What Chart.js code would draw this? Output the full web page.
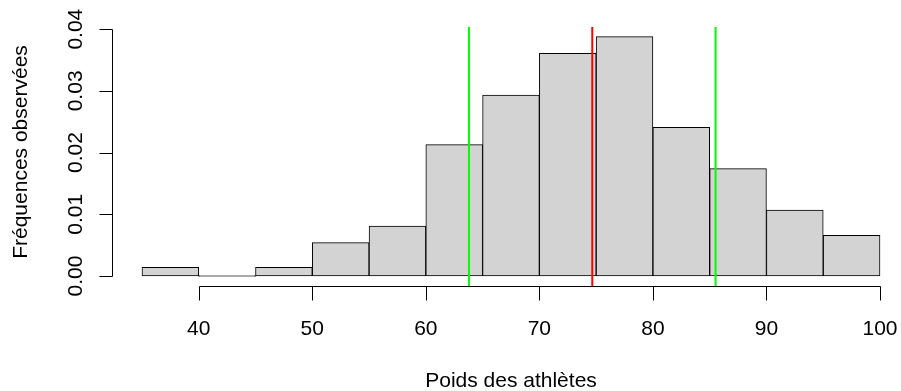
<!DOCTYPE html>
<html lang="fr">
<head>
    <meta charset="UTF-8">
    <title>Poids des athlètes</title>
    <script src="https://cdn.jsdelivr.net/npm/chart.js"></script>
    <style>
        body { margin: 0; background: #fff; }
    </style>
</head>
<body>
    <canvas id="histChart" width="901" height="391"></canvas>

    <script>
        // Histogram data (density scale)
        var breaks = [35, 40, 45, 50, 55, 60, 65, 70, 75, 80, 85, 90, 95, 100];
        var densities = [0.0014, 0, 0.0014, 0.0054, 0.0081, 0.0213, 0.0293, 0.0361, 0.0388, 0.0241, 0.0174, 0.0107, 0.0066];

        // Mean and mean +/- one standard deviation
        var meanLine = [74.66];
        var sdLines = [63.8, 85.52];

        // Axis ticks
        var xTicks = [40, 50, 60, 70, 80, 90, 100];
        var yTicks = [0, 0.01, 0.02, 0.03, 0.04];
        var yTickLabels = ['0.00', '0.01', '0.02', '0.03', '0.04'];

        var xTitle = 'Poids des athlètes';
        var yTitle = 'Fréquences observées';

        var xMin = 32.36, xMax = 101.85;
        var yMin = -0.00162, yMax = 0.04035;

        var font = '21px "Liberation Sans", Arial, sans-serif';

        // Bars placed at bin centres
        var barData = densities.map(function (d, i) {
            return { x: (breaks[i] + breaks[i + 1]) / 2, y: d };
        });

        function vline(x) {
            return [{ x: x, y: yMin }, { x: x, y: yMax }];
        }

        // R-style axes: detached lines that only span first to last tick
        var rAxes = {
            id: 'rAxes',
            afterDraw: function (chart) {
                var ctx = chart.ctx;
                var xs = chart.scales.x, ys = chart.scales.y;
                var area = chart.chartArea;
                ctx.save();
                ctx.strokeStyle = '#000';
                ctx.fillStyle = '#000';
                ctx.lineWidth = 1;
                ctx.font = font;

                // x axis
                var axY = Math.round(area.bottom) + 0.5;
                ctx.beginPath();
                ctx.moveTo(Math.round(xs.getPixelForValue(xTicks[0])) + 0.5, axY);
                ctx.lineTo(Math.round(xs.getPixelForValue(xTicks[xTicks.length - 1])) + 0.5, axY);
                xTicks.forEach(function (t) {
                    var px = Math.round(xs.getPixelForValue(t)) + 0.5;
                    ctx.moveTo(px, axY);
                    ctx.lineTo(px, axY + 14);
                });
                ctx.stroke();
                ctx.textAlign = 'center';
                ctx.textBaseline = 'alphabetic';
                xTicks.forEach(function (t) {
                    ctx.fillText(String(t), xs.getPixelForValue(t), 335);
                });
                ctx.fillText(xTitle, 511, 387);

                // y axis
                var axX = Math.round(area.left) + 0.5;
                ctx.beginPath();
                ctx.moveTo(axX, Math.round(ys.getPixelForValue(yTicks[0])) + 0.5);
                ctx.lineTo(axX, Math.round(ys.getPixelForValue(yTicks[yTicks.length - 1])) + 0.5);
                yTicks.forEach(function (t) {
                    var py = Math.round(ys.getPixelForValue(t)) + 0.5;
                    ctx.moveTo(axX, py);
                    ctx.lineTo(axX - 13, py);
                });
                ctx.stroke();
                yTicks.forEach(function (t, i) {
                    ctx.save();
                    ctx.translate(82, ys.getPixelForValue(t));
                    ctx.rotate(-Math.PI / 2);
                    ctx.fillText(yTickLabels[i], 0, 0);
                    ctx.restore();
                });
                ctx.save();
                ctx.translate(27, 152);
                ctx.rotate(-Math.PI / 2);
                ctx.fillText(yTitle, 0, 0);
                ctx.restore();

                ctx.restore();
            }
        };

        var ctx = document.getElementById('histChart').getContext('2d');
        var myChart = new Chart(ctx, {
            type: 'bar',
            data: {
                datasets: [
                    {
                        type: 'line',
                        data: vline(sdLines[0]),
                        borderColor: '#00FF00',
                        borderWidth: 2,
                        pointRadius: 0,
                        order: 1
                    },
                    {
                        type: 'line',
                        data: vline(meanLine[0]),
                        borderColor: '#FF0000',
                        borderWidth: 2,
                        pointRadius: 0,
                        order: 1
                    },
                    {
                        type: 'line',
                        data: vline(sdLines[1]),
                        borderColor: '#00FF00',
                        borderWidth: 2,
                        pointRadius: 0,
                        order: 1
                    },
                    {
                        type: 'bar',
                        data: barData,
                        backgroundColor: '#D3D3D3',
                        borderColor: '#000',
                        borderWidth: 1,
                        borderSkipped: false,
                        barPercentage: 1,
                        categoryPercentage: 1,
                        minBarLength: 1,
                        order: 2
                    }
                ]
            },
            options: {
                responsive: false,
                animation: false,
                layout: {
                    padding: { left: 112, right: 0, top: 27, bottom: 105 }
                },
                plugins: {
                    legend: { display: false },
                    tooltip: { enabled: false }
                },
                scales: {
                    x: {
                        type: 'linear',
                        min: xMin,
                        max: xMax,
                        offset: false,
                        display: false
                    },
                    y: {
                        type: 'linear',
                        min: yMin,
                        max: yMax,
                        display: false
                    }
                }
            },
            plugins: [rAxes]
        });
    </script>
</body>
</html>
